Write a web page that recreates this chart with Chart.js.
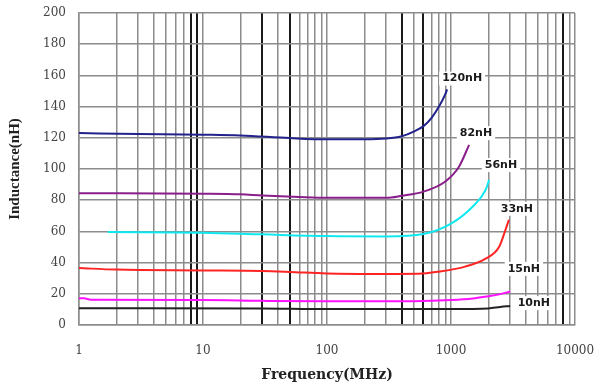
<!DOCTYPE html>
<html>
<head>
<meta charset="utf-8">
<script src="https://cdn.jsdelivr.net/npm/chart.js@4/dist/chart.umd.min.js"></script>
<style>
  html, body { margin: 0; padding: 0; background: #fff; }
  #wrap { width: 600px; height: 389px; }
</style>
</head>
<body>
<div id="wrap"><canvas id="chart"></canvas></div>
<script>
// Inductance vs frequency curves
const freq120 = [1, 3, 10, 20, 50, 100, 200, 300, 400, 500, 600, 700, 800, 900, 930];
const ind120  = [123, 122.5, 122, 121.5, 119.8, 119, 119, 119.5, 121, 124, 127.5, 133, 140, 148, 151];

const freq82 = [1, 10, 20, 30, 60, 100, 300, 400, 600, 900, 1160, 1400];
const ind82  = [84.5, 84.2, 83.8, 83, 82, 81.5, 81.5, 82.8, 85.5, 92, 101.5, 115.5];

const freq56 = [1.7, 10, 30, 100, 300, 600, 1000, 1500, 1900, 2030];
const ind56  = [59.6, 59.2, 58.1, 57, 56.8, 58.3, 65, 76, 86.5, 93];

const freq33 = [1, 2, 10, 30, 50, 100, 300, 550, 800, 1300, 1900, 2440, 2750, 2930];
const ind33  = [36.5, 35.5, 35, 34.6, 34, 33, 32.7, 32.8, 34.2, 37.4, 42.5, 50, 61, 67.5];

const freq15 = [1, 1.1, 1.25, 10, 30, 100, 500, 1000, 1500, 2000, 2500, 3000];
const ind15  = [17.2, 17.1, 16.2, 16, 15.5, 15.2, 15.3, 16, 17, 18.5, 19.8, 21.5];

const freq10 = [1, 30, 100, 1000, 2000, 2500, 3000];
const ind10  = [10.8, 10.6, 10.2, 10.2, 10.6, 11.6, 12.2];

// curve labels and where they sit (frequency, inductance)
const labelText = ['120nH', '82nH', '56nH', '33nH', '15nH', '10nH'];
const labelFreq = [1230, 1590, 2530, 3400, 3870, 4660];
const labelInd  = [158, 123, 102.5, 74.5, 36, 14];

const xTicks = [];
for (let d = 1; d <= 1000; d *= 10) for (let m = 1; m < 10; m++) xTicks.push(d * m);
xTicks.push(10000);
const thickLines = [8, 9, 30, 50, 400, 600, 8000];

function pts(xs, ys) { return xs.map((x, i) => ({ x: x, y: ys[i] })); }

function series(xs, ys, color) {
  return {
    data: pts(xs, ys),
    borderColor: color,
    borderWidth: 2,
    pointRadius: 0,
    fill: false,
    cubicInterpolationMode: 'monotone'
  };
}

const curveLabels = {
  id: 'curveLabels',
  afterDatasetsDraw(chart) {
    const ctx = chart.ctx;
    const xs = chart.scales.x, ys = chart.scales.y;
    ctx.save();
    ctx.font = 'bold 11px "DejaVu Sans"';
    ctx.textAlign = 'center';
    ctx.textBaseline = 'middle';
    labelText.forEach((t, i) => {
      const px = xs.getPixelForValue(labelFreq[i]);
      const py = ys.getPixelForValue(labelInd[i]);
      const w = ctx.measureText(t).width + 6;
      ctx.fillStyle = '#fff';
      ctx.fillRect(px - w / 2, py - 7, w, 14);
      ctx.fillStyle = '#1a1a1a';
      ctx.fillText(t, px, py);
    });
    ctx.restore();
  }
};

new Chart(document.getElementById('chart'), {
  type: 'line',
  data: {
    datasets: [
      series(freq120, ind120, '#22228c'),
      series(freq82, ind82, '#8a1e8a'),
      series(freq56, ind56, '#10e8f0'),
      series(freq33, ind33, '#ff2424'),
      series(freq15, ind15, '#ff10ff'),
      series(freq10, ind10, '#222222')
    ]
  },
  options: {
    responsive: true,
    maintainAspectRatio: false,
    animation: false,
    layout: { padding: { top: 13, right: 25, left: 0, bottom: 0 } },
    plugins: { legend: { display: false }, tooltip: { enabled: false } },
    scales: {
      x: {
        type: 'logarithmic',
        min: 1,
        max: 10000,
        afterBuildTicks: s => { s.ticks = xTicks.map(v => ({ value: v })); },
        afterFit: s => { s.height = 64; s.paddingLeft = 0; s.paddingRight = 0; },
        ticks: {
          autoSkip: false,
          maxRotation: 0,
          padding: 19,
          color: '#444',
          font: { family: '"DejaVu Serif"', size: 12 },
          callback: v => ([1, 10, 100, 1000, 10000].includes(v) ? String(v) : '')
        },
        grid: {
          drawTicks: false,
          color: c => (c.tick && thickLines.includes(c.tick.value) ? '#1a1a1a' : '#8c8c8c'),
          lineWidth: c => (c.tick && thickLines.includes(c.tick.value) ? 2 : 1.5)
        },
        border: { color: '#8c8c8c', width: 1.5 },
        title: {
          display: true,
          text: 'Frequency(MHz)',
          color: '#222',
          font: { family: '"DejaVu Serif"', size: 14, weight: 'bold' },
          padding: { top: 0, bottom: 5 }
        }
      },
      y: {
        min: 0,
        max: 200,
        afterFit: s => { s.width = 79; s.paddingTop = 0; s.paddingBottom = 0; },
        ticks: {
          stepSize: 20,
          padding: 13,
          color: '#444',
          font: { family: '"DejaVu Serif"', size: 12 }
        },
        grid: { drawTicks: false, color: '#8c8c8c', lineWidth: 1.5 },
        border: { color: '#8c8c8c', width: 1.5 },
        title: {
          display: true,
          text: 'Inductance(nH)',
          color: '#222',
          font: { family: '"Liberation Serif"', size: 15, weight: 'bold' },
          padding: { top: 6, bottom: 0 }
        }
      }
    }
  },
  plugins: [curveLabels]
});
</script>
</body>
</html>
